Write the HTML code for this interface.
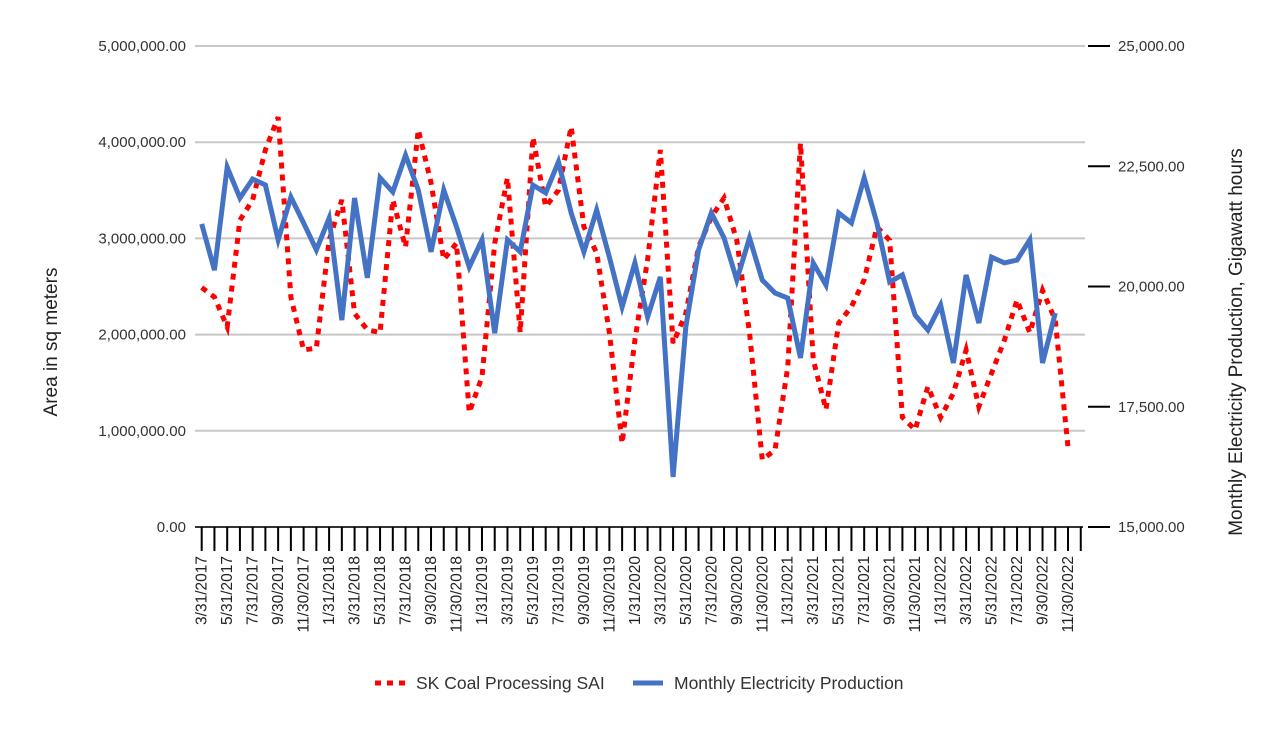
<!DOCTYPE html>
<html><head><meta charset="utf-8"><style>
body{margin:0;background:#fff;}
svg{font-family:"Liberation Sans",Arial,sans-serif;}
</style></head><body>
<svg id="chart" width="1284" height="732" viewBox="0 0 1284 732" xmlns="http://www.w3.org/2000/svg">
<g id="grid"></g>
<g id="yl"></g>
<g id="yr"></g>
<g id="xa"></g>
<g id="series"></g>
<text transform="translate(57,342) rotate(-90)" text-anchor="middle" font-size="19" fill="#222">Area in sq meters</text>
<text transform="translate(1242,342) rotate(-90)" text-anchor="middle" font-size="19" fill="#222">Monthly Electricity Production, Gigawatt hours</text>
<g>
<g>
<line x1="375" y1="683" x2="405" y2="683" stroke="#ff0000" stroke-width="5" stroke-dasharray="6 6"/>
<text x="416" y="689" font-size="17.5" fill="#333">SK Coal Processing SAI</text></g>
<g>
<line x1="633" y1="683" x2="663" y2="683" stroke="#4472c4" stroke-width="5"/>
<text x="674" y="689" font-size="17.5" fill="#333">Monthly Electricity Production</text></g>
</g>
</svg>
<script>
const leftTicks=[0,1000000,2000000,3000000,4000000,5000000];
const rightTicks=[15000,17500,20000,22500,25000];
const saiValues=[2.49,2.39,2.08,3.19,3.40,3.92,4.26,2.39,1.84,1.86,2.98,3.40,2.22,2.05,2.02,3.40,2.91,4.13,3.58,2.78,2.95,1.19,1.56,2.95,3.63,2.02,4.05,3.33,3.50,4.16,3.12,2.85,2.02,0.87,1.94,2.78,3.92,1.91,2.22,2.91,3.22,3.42,2.98,2.02,0.70,0.80,1.66,3.99,1.74,1.22,2.12,2.29,2.57,3.12,2.98,1.14,1.01,1.46,1.14,1.39,1.84,1.25,1.60,1.94,2.36,2.02,2.46,2.15,0.83];
const elecValues=[21300,20340,22480,21840,22235,22110,20970,21860,21320,20760,21420,19300,21840,20180,22260,21965,22730,22005,20720,22005,21240,20405,20970,19030,20970,20720,22110,21945,22590,21530,20720,21590,20610,19575,20490,19365,20200,16040,19160,20760,21530,21010,20135,21010,20135,19865,19760,18515,20490,20030,21530,21320,22260,21320,20095,20240,19405,19095,19615,18410,20240,19240,20610,20490,20550,20970,18410,19450];
const NS='http://www.w3.org/2000/svg';
const X0=201.7,DX=12.74,Y0=527,H=481;
const xs=k=>X0+DX*k;
const yl=v=>Y0-v/5000000*H;
const yr=v=>Y0-(v-15000)/10000*H;
function mk(tag,attrs,parent,txt){const e=document.createElementNS(NS,tag);for(const k in attrs)e.setAttribute(k,attrs[k]);if(txt!==undefined)e.textContent=txt;parent.appendChild(e);return e;}
const fmt=v=>v.toLocaleString('en-US',{minimumFractionDigits:2,maximumFractionDigits:2});
const grid=document.getElementById('grid'),gl=document.getElementById('yl'),gr=document.getElementById('yr'),gx=document.getElementById('xa'),gs=document.getElementById('series');
leftTicks.forEach(v=>{
 if(v>0){const l=mk('line',{x1:195,x2:1085,y1:yl(v),y2:yl(v),stroke:'#c8c8c8','stroke-width':2},grid);
 
 }
 const t=mk('text',{x:186,y:yl(v)+5,'text-anchor':'end','font-size':15,fill:'#333'},gl,fmt(v));
 
 
});
rightTicks.forEach(v=>{
 const l=mk('line',{x1:1088,x2:1110,y1:yr(v),y2:yr(v),stroke:'#000','stroke-width':2},gr);
 
 
 const t=mk('text',{x:1118,y:yr(v)+5,'font-size':15,fill:'#333'},gr,fmt(v));
 
 
});
const ax=mk('line',{x1:195,x2:1083,y1:Y0,y2:Y0,stroke:'#333','stroke-width':2},gx);


for(let k=0;k<70;k++){
 const t=mk('line',{x1:xs(k),x2:xs(k),y1:Y0,y2:Y0+24,stroke:'#000','stroke-width':2},gx);
 
 
}
for(let k=0;k<69;k+=2){
 const m=3+k, yr_=2017+Math.floor((m-1)/12), mo=((m-1)%12)+1;
 const last=[31,28,31,30,31,30,31,31,30,31,30,31][mo-1];
 const t=mk('text',{transform:`translate(${xs(k)+5},556) rotate(-90)`,'text-anchor':'end','font-size':15.5,fill:'#222'},gx,`${mo}/${last}/${yr_}`);
 
 
}
const red=mk('polyline',{points:saiValues.map((v,k)=>xs(k)+','+yl(v*1000000)).join(' '),fill:'none',stroke:'#ff0000','stroke-width':5,'stroke-dasharray':'6 6','stroke-linejoin':'miter'},gs);


const blue=mk('polyline',{points:elecValues.map((v,k)=>xs(k)+','+yr(v)).join(' '),fill:'none',stroke:'#4472c4','stroke-width':5,'stroke-linejoin':'miter'},gs);


</script>
</body></html>
